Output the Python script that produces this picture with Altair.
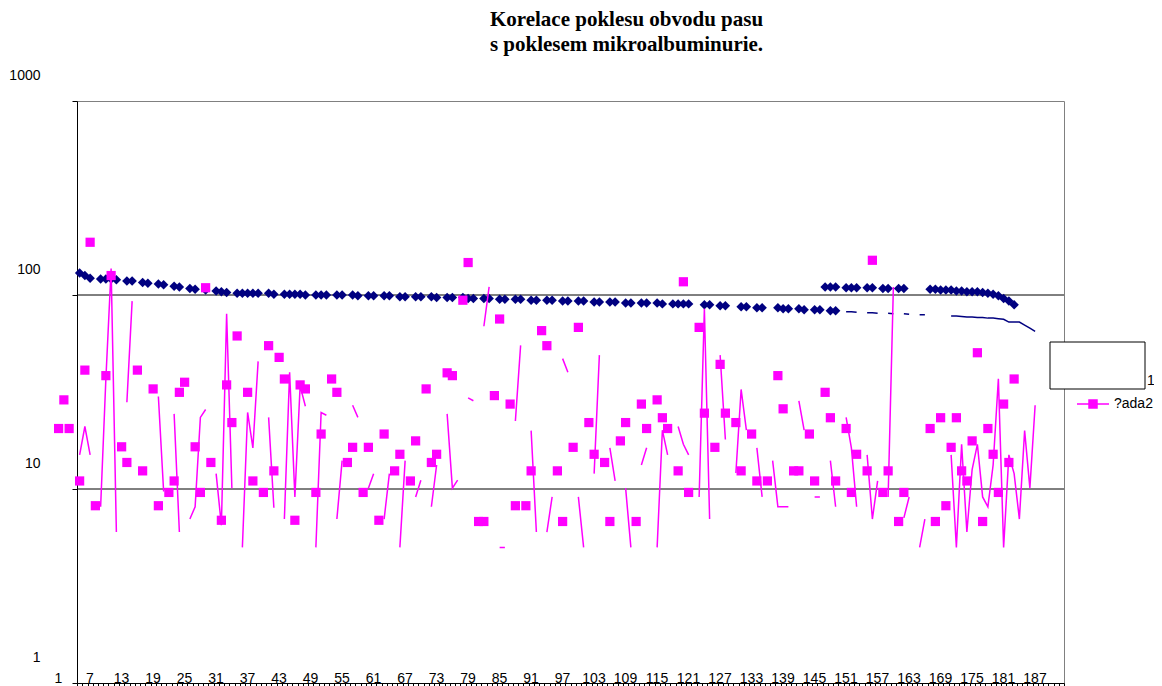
import altair as alt
import pandas as pd

TITLE_LINES = ["Korelace poklesu obvodu pasu", "s poklesem mikroalbuminurie."]
SERIES_NAMES = ["?ada1", "?ada2"]
SERIES_COLORS = ["#000080", "#FF00FF"]
HIDDEN_LEGEND_TAIL = "1"   # only visible character of the covered "?ada1" entry

N_CATEGORIES = 188
X_TICK_LABELS = [1, 7, 13, 19, 25, 31, 37, 43, 49, 55, 61, 67, 73, 79, 85, 91,
                 97, 103, 109, 115, 121, 127, 133, 139, 145, 151, 157, 163,
                 169, 175, 181, 187]
Y_TICKS = [1, 10, 100, 1000]
GRID_VALUES = [10, 100]

# ---- series 1 (navy diamonds) ----
ada1_marker_cats = [
    1, 2, 3, 5, 6, 7, 8, 10, 11, 13, 14, 16, 17, 19, 20, 22, 23, 25,
    27, 28, 29, 31, 32, 33, 34, 35, 37, 38, 40, 41, 42, 43, 44,
    46, 47, 48, 50, 51, 53, 54, 56, 57, 59, 60, 62, 63, 65, 66, 68, 69,
    71, 72, 74, 75, 76, 78, 79, 81, 82, 84, 85, 87, 88, 90, 91, 93, 94,
    96, 97, 99, 100, 102, 103, 105, 106, 108, 109, 111, 112,
    114, 115, 116, 117, 120, 121, 123, 124, 127, 128, 130, 131,
    134, 135, 136, 138, 139, 141, 142, 144, 145,
    143, 144, 145, 147, 148, 149, 151, 152, 154, 155, 157, 158,
    163, 164, 165, 166, 167, 168, 169, 170, 171, 172, 173, 174, 175, 176, 177, 178, 179,
]
ada1_marker_vals = [
    130, 126, 122, 121, 121, 121, 120, 118, 118, 116, 115, 114, 113, 111, 110, 108, 107, 106,
    105, 104, 103, 102, 102, 102, 102, 102, 102, 101, 101, 101, 101, 101, 100,
    100, 100, 100, 100, 100, 100, 99, 99, 99, 99, 99, 98, 98, 98, 98, 98, 97,
    97, 97, 97, 96, 96, 96, 96, 95, 95, 95, 95, 94, 94, 94, 94, 93, 93,
    93, 93, 92, 92, 92, 92, 91, 91, 91, 91, 91, 90,
    90, 90, 90, 90, 89, 89, 88, 88, 87, 87, 86, 86,
    86, 85, 85, 85, 84, 84, 84, 83, 83,
    110, 110, 110, 109, 109, 109, 109, 109, 108, 108, 108, 108,
    107, 107, 106, 106, 106, 105, 105, 104, 104, 104, 103, 102, 101, 99, 96, 93, 89,
]

# visible pieces of the series 1 line (categories 147..183)
ada1_line_cats = [147, 148, 149, 150, 151, 152, 153, 154, 155, 156, 157, 158, 159, 160,
                  161, 162, 163, 164, 165, 166, 167, 168, 169, 170, 171, 172, 173, 174,
                  175, 176, 177, 178, 179, 180, 181, 182, 183]
ada1_line_vals = [82, 82, 81.5, None, 81, 81, 80.5, None, 80.5, 80, None, 80, 79.5, None,
                  79, 79, None, None, None, None, 78, 78, 77.5, 77, 77, 76.5, 76.5, 76,
                  76, 75.5, 75, 72.5, 72.5, 72.5, 70, 67.5, 65]

# ---- series 2 (magenta squares) ----
ada2_marker_cats = [
    -3, -2, -1,
    1, 2, 3, 4, 6, 7, 9, 10,
    12, 13, 15, 16, 18, 19, 20, 21,
    23, 24, 25, 26, 28, 29, 30, 31,
    33, 34, 36, 37, 38, 39, 40,
    42, 43, 44, 46, 47, 49, 50,
    52, 53, 55, 56, 58, 59, 61, 62,
    64, 65, 67, 68, 69, 71, 72, 74, 75,
    77, 78, 80, 81, 83, 84, 86, 87,
    89, 90, 92, 93, 95, 96, 98, 99,
    101, 102, 104, 105, 107, 108, 109,
    111, 112, 113, 115, 116, 117, 119, 120,
    122, 123, 124, 126, 127, 129, 130, 132,
    134, 135, 137, 138, 140, 141, 143, 144, 145,
    147, 148, 149, 151, 152, 154, 155, 157, 158,
    163, 164, 165, 166, 167, 168, 169, 170,
    171, 172, 173, 174, 175, 176, 177, 178, 179,
]
ada2_marker_vals = [
    20.5, 28.8, 20.5,
    11, 41, 187, 8.2, 38.4, 126, 16.5, 13.7,
    41, 12.4, 32.8, 8.2, 9.6, 11, 31.5, 35.5,
    16.5, 9.6, 109, 13.7, 6.9, 34.4, 22, 61.5,
    31.5, 11, 9.6, 54.8, 12.4, 47.7, 36.9,
    6.9, 34.4, 32.8, 9.6, 19.2, 36.9, 31.5,
    13.7, 16.4, 9.6, 16.4, 6.9, 19.2, 12.4, 15.1,
    11, 17.7, 32.8, 13.7, 15.1, 39.7, 38.4, 94, 147,
    6.8, 6.8, 30.3, 75.2, 27.4, 8.2, 8.2, 12.4,
    65.5, 54.8, 12.4, 6.8, 16.4, 68.1, 22, 15.1,
    13.7, 6.8, 17.7, 22, 6.8, 27.4, 20.5,
    28.8, 23.3, 20.5, 12.4, 117, 9.6, 68.1, 24.6,
    16.4, 43.9, 24.6, 22, 12.4, 19.2, 11, 11,
    38.4, 25.9, 12.4, 12.4, 19.2, 11, 31.5, 23.3, 11,
    20.5, 9.6, 15.1, 12.4, 151, 9.6, 12.4, 6.8, 9.6,
    20.5, 6.8, 23.3, 8.2, 16.4, 23.3, 12.4, 11,
    17.7, 50.4, 6.8, 20.5, 15.1, 9.6, 27.4, 13.7, 36.9,
]

# series 2 line, categories 1..183 (None = gap)
ada2_line_vals = [
    15, 21, 15, None, 8.1, 37, 137, 6, None, 28,
    93, None, None, None, None, 30, 9.7, None, 24.4, 6,
    None, 7, 8.1, 23.4, 25.7, None, 12, 6.5, 80, 10.1,
    None, 5, 24.8, 16.3, 45.5, None, 23.4, 8, None, 7,
    40, 9.1, 34, 26.7, None, 5, 24.8, 24, None, 7,
    14, None, 27, 23.4, None, 10.1, 12, None, 7, 12,
    None, 5, 14, None, 9.1, 11.1, None, 8.1, 13.3, None,
    24.4, 10.1, 11.1, None, 29.5, 28.5, None, 69, 110, None,
    5, 5, None, 22.4, 55, None, 20, 6, None, 6,
    9.1, None, 47, 40, None, 9.1, 5, None, 12, 49,
    None, 16.3, 11, None, 10.1, 5, None, 13.3, 16.3, None,
    5, 20.1, 15, None, 21, 17, 15, None, 9.1, 85,
    7, None, 49, 18, None, 12.1, 32.6, 20.1, None, 16.3,
    9.1, None, 14, 8.1, 8.1, 8.1, None, 28.5, 20.1, None,
    9.1, 9.1, None, 14, 8.1, None, 23.4, 16.3, 8.1, None,
    15, 7, 11, None, 9.1, 110, None, 7.1, 9.1, None,
    5, 7, None, None, None, None, 15, 5, 17, 6,
    12.6, 17, 9.1, 8.1, 13.3, 37, 5, 15, 12, 7,
    20, 10.1, 27,
]
ada2_line_cats = list(range(1, len(ada2_line_vals) + 1))

# ---- tables ----
markers1 = pd.DataFrame({"cat": ada1_marker_cats, "value": ada1_marker_vals,
                         "series": SERIES_NAMES[0]})
line1 = pd.DataFrame({"cat": ada1_line_cats, "value": ada1_line_vals})
markers2 = pd.DataFrame({"cat": ada2_marker_cats, "value": ada2_marker_vals,
                         "series": SERIES_NAMES[1]})
line2 = pd.DataFrame({"cat": ada2_line_cats, "value": ada2_line_vals})
grid = pd.DataFrame({"value": GRID_VALUES})

# ---- scales & axes ----
x_scale = alt.Scale(domain=[0.5, N_CATEGORIES + 0.5], nice=False, zero=False)
y_scale = alt.Scale(type="log", domain=[1, 1000], nice=False)
tick_positions = [c - 0.5 for c in range(1, N_CATEGORIES + 2)]
label_list = ",".join(str(v) for v in X_TICK_LABELS)
x_label_expr = ("indexof([" + label_list + "], datum.value + 0.5) >= 0 ? "
                "'' + (datum.value + 0.5) : ''")

x_axis = alt.Axis(values=tick_positions, labelExpr=x_label_expr, title=None, grid=False,
                  domainColor="black", domainWidth=1, tickColor="black", tickSize=5,
                  tickWidth=1, labelFont="Liberation Sans", labelFontSize=14,
                  labelColor="black", labelPadding=-17, labelOffset=-19,
                  labelFlush=False, labelOverlap=False, labelBound=False, labelAngle=0)
y_axis = alt.Axis(values=Y_TICKS, format="d", title=None, grid=False,
                  domainColor="black", domainWidth=1, tickColor="black", tickSize=5,
                  tickWidth=1, labelFont="Liberation Sans", labelFontSize=14,
                  labelColor="black", labelPadding=32, labelOffset=-26,
                  labelFlush=False, labelOverlap=False)

X = alt.X("cat:Q", scale=x_scale, axis=x_axis)
Y = alt.Y("value:Q", scale=y_scale, axis=y_axis)

legend = alt.Legend(
    title=None, orient="none", legendX=999, legendY=286, direction="vertical",
    values=[SERIES_NAMES[1]],
    symbolType="M-1,0L1,0M-0.25,-0.25L0.25,-0.25L0.25,0.25L-0.25,0.25Z",
    symbolSize=1024, symbolStrokeColor="#FF00FF", symbolStrokeWidth=1.5,
    labelOffset=4, padding=0,
    labelFont="Liberation Sans", labelFontSize=14, labelColor="black", labelLimit=0,
)
color = alt.Color("series:N",
                  scale=alt.Scale(domain=SERIES_NAMES, range=SERIES_COLORS),
                  legend=legend)

grid_layer = alt.Chart(grid).mark_rule(color="black", strokeWidth=1).encode(y=Y)

line1_layer = alt.Chart(line1).mark_line(
    color=SERIES_COLORS[0], strokeWidth=1.5, invalid="break-paths-show-domains"
).encode(x=X, y=Y)

markers1_layer = alt.Chart(markers1).mark_point(
    shape="diamond", filled=True, size=90, opacity=1
).encode(x=X, y=Y, color=color)

line2_layer = alt.Chart(line2).mark_line(
    color=SERIES_COLORS[1], strokeWidth=1.5, invalid="break-paths-show-domains"
).encode(x=X, y=Y)

markers2_layer = alt.Chart(markers2).mark_point(
    shape="square", filled=True, size=85, opacity=1
).encode(x=X, y=Y, color=color)

# white box that covers the first legend entry in the original, and the
# uncovered tail of that entry's label
box_layer = alt.Chart(pd.DataFrame({"box": [1]})).mark_rect(
    fill="white", stroke="black", strokeWidth=1
).encode(x=alt.value(973), x2=alt.value(1068), y=alt.value(241), y2=alt.value(288))

tail_layer = alt.Chart(pd.DataFrame({"t": [HIDDEN_LEGEND_TAIL]})).mark_text(
    font="Liberation Sans", fontSize=14, color="black", align="left", baseline="middle"
).encode(text="t:N", x=alt.value(1070), y=alt.value(280))

chart = alt.layer(
    grid_layer, line1_layer, markers1_layer, line2_layer, markers2_layer,
    box_layer, tail_layer
).properties(
    width=987,
    height=582,
    title=alt.Title(TITLE_LINES, font="Liberation Serif", fontSize=21, fontWeight="bold",
                    color="black", anchor="middle", frame="group", dx=56, offset=13,
                    lineHeight=25),
    autosize=alt.AutoSizeParams(type="none"),
    padding={"left": 69, "top": 93, "right": 90, "bottom": 3},
    background="white",
).configure_view(stroke="#808080", strokeWidth=1)

chart.save("out.html", embed_options={"renderer": "svg", "actions": False})
